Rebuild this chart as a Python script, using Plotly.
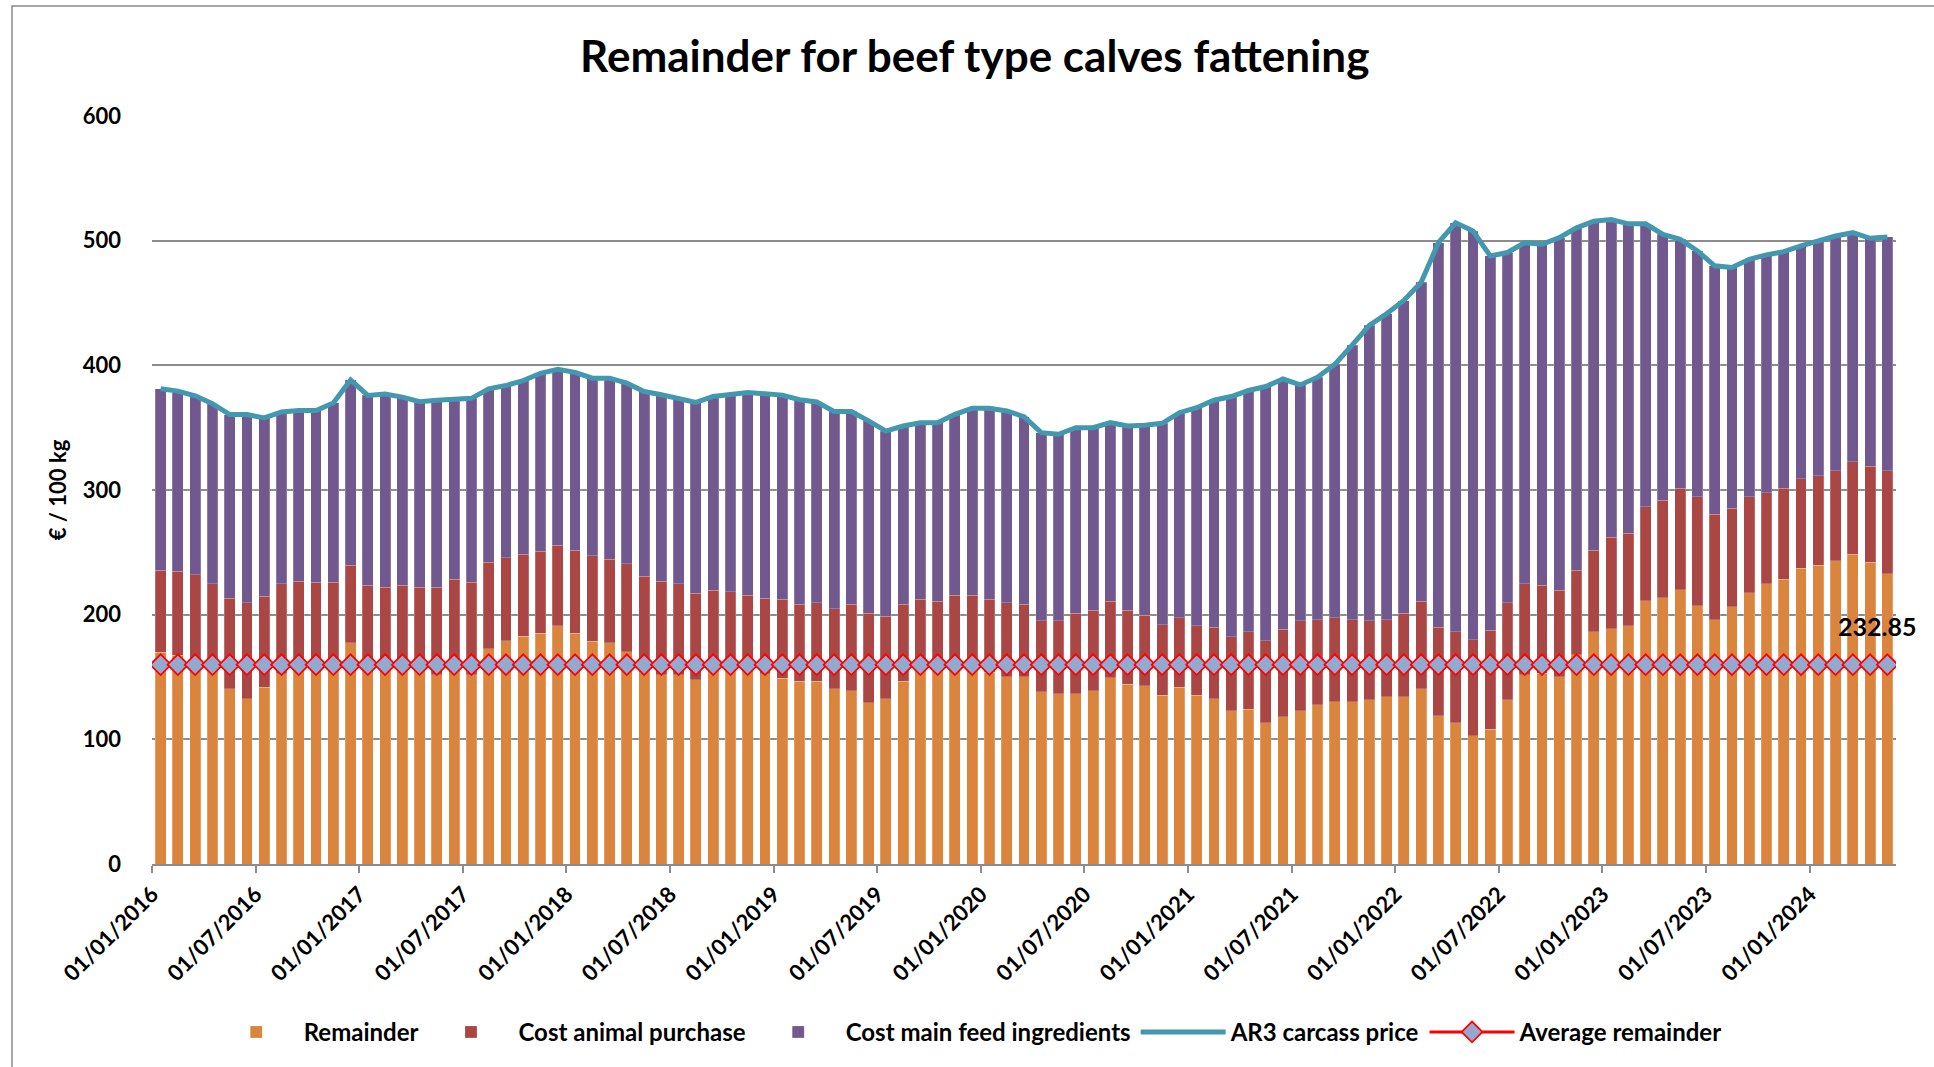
import plotly.graph_objects as go

# ---------------- data ----------------
start_year, start_month = 2016, 1
n_months = 101  # Jan 2016 .. May 2024
months = []
y, m = start_year, start_month
for _ in range(n_months):
    months.append((y, m))
    m += 1
    if m > 12:
        m = 1
        y += 1

remainder = [
    170.0, 167.6, 162.0, 158.0, 140.5, 132.7, 141.6, 152.7, 156.0, 157.0, 156.0, 177.3,
    158.0, 157.0, 157.0, 158.0, 151.8, 155.0, 151.8, 172.8, 179.1, 182.5, 184.9, 191.0,
    184.9, 178.8, 177.3, 170.1, 160.0, 151.7, 151.7, 147.8, 157.0, 158.0, 156.0, 152.5,
    149.0, 146.4, 146.4, 140.5, 138.9, 129.2, 132.7, 146.4, 156.0, 158.0, 160.0, 160.0,
    154.0, 150.4, 150.4, 138.1, 136.5, 136.5, 138.9, 149.3, 144.0, 142.9, 135.4, 141.6,
    135.4, 132.7, 123.1, 124.2, 113.5, 118.3, 123.1, 127.9, 130.3, 130.3, 131.9, 134.3,
    134.3, 140.5, 119.1, 113.5, 103.0, 108.1, 131.7, 151.7, 153.0, 150.4, 167.8, 186.2,
    188.7, 191.1, 211.1, 213.5, 220.0, 207.1, 196.1, 206.3, 217.6, 224.8, 228.5, 237.1,
    239.8, 243.2, 248.3, 242.2, 232.85,
]

animal_purchase = [
    65.7, 67.1, 70.0, 66.8, 72.8, 76.8, 73.0, 72.1, 70.9, 68.9, 69.9, 62.5,
    65.7, 65.1, 66.7, 64.1, 70.3, 73.5, 74.1, 69.4, 66.5, 65.8, 65.8, 64.8,
    66.9, 68.5, 67.3, 70.7, 70.9, 75.2, 73.1, 69.5, 62.7, 60.4, 59.7, 60.8,
    63.2, 62.1, 63.1, 64.2, 69.6, 72.0, 65.9, 62.1, 56.2, 52.9, 55.7, 55.7,
    58.2, 59.1, 58.1, 57.0, 58.6, 64.7, 64.7, 61.6, 59.6, 56.7, 56.7, 55.9,
    55.7, 57.3, 59.1, 62.0, 65.5, 70.1, 72.0, 68.2, 67.2, 65.8, 63.2, 61.8,
    66.9, 70.4, 70.9, 72.7, 76.8, 79.5, 77.8, 73.1, 70.4, 69.3, 67.9, 65.6,
    73.3, 74.4, 75.5, 78.2, 81.6, 87.3, 84.6, 79.2, 76.8, 73.0, 73.1, 72.0,
    71.7, 72.3, 74.4, 76.8, 82.7,
]

feed_cost = [
    145.5, 144.6, 143.6, 144.4, 147.2, 151.0, 143.2, 137.8, 136.8, 137.8, 143.9, 148.5,
    152.2, 154.8, 150.8, 148.7, 149.8, 143.9, 147.6, 139.0, 138.2, 139.5, 142.9, 141.0,
    142.6, 142.4, 145.1, 144.9, 148.1, 149.5, 148.1, 153.0, 155.3, 158.5, 162.5, 163.9,
    163.9, 163.9, 161.1, 158.3, 154.5, 154.3, 148.7, 142.8, 141.8, 143.1, 145.0, 149.8,
    153.3, 153.9, 150.3, 150.9, 149.6, 148.8, 146.4, 143.1, 147.7, 152.3, 161.4, 164.5,
    174.9, 182.0, 192.8, 193.6, 204.0, 200.6, 189.2, 194.4, 203.3, 220.1, 237.0, 245.3,
    250.8, 255.7, 308.4, 328.1, 327.9, 300.2, 281.0, 273.6, 273.7, 282.7, 274.6, 263.8,
    255.0, 248.0, 226.9, 213.3, 199.5, 197.4, 199.1, 193.0, 190.7, 190.8, 189.6, 186.7,
    188.2, 188.2, 183.7, 182.9, 187.4,
]

carcass_price = [
    381.2, 379.3, 375.6, 369.2, 360.5, 360.5, 357.8, 362.6, 363.7, 363.7, 369.8, 388.3,
    375.9, 376.9, 374.5, 370.8, 371.9, 372.4, 373.5, 381.2, 383.8, 387.8, 393.6, 396.8,
    394.4, 389.7, 389.7, 385.7, 379.0, 376.4, 372.9, 370.3, 375.0, 376.9, 378.2, 377.2,
    376.1, 372.4, 370.6, 363.0, 363.0, 355.5, 347.3, 351.3, 354.0, 354.0, 360.7, 365.5,
    365.5, 363.4, 358.8, 346.0, 344.7, 350.0, 350.0, 354.0, 351.3, 351.9, 353.5, 362.0,
    366.0, 372.0, 375.0, 379.8, 383.0, 389.0, 384.3, 390.5, 400.8, 416.2, 432.1, 441.4,
    452.0, 466.6, 498.4, 514.3, 507.7, 487.8, 490.5, 498.4, 497.1, 502.4, 510.3, 515.6,
    517.0, 513.5, 513.5, 505.0, 501.1, 491.8, 479.8, 478.5, 485.1, 488.6, 491.2, 495.8,
    499.7, 503.7, 506.4, 501.9, 502.9,
]

average_remainder_value = 159.9
average_remainder = [average_remainder_value] * n_months

# ---------------- styling ----------------
FONT = "Lato"
C_ORANGE = "#DB843D"
C_RED = "#AA4643"
C_PURPLE = "#71588F"
C_TEAL = "#4198AF"
C_MARKER = "#93A9CF"
GRID = "#8c8c8c"
SEG_LINE = "rgba(255,255,255,0.35)"

x = list(range(n_months))

# tick positions at the left edge of January and July categories
tick_vals = [i - 0.5 for i, (yy, mm) in enumerate(months) if mm in (1, 7)]
tick_text = ["01/%02d/%d" % (mm, yy) for (yy, mm) in months if mm in (1, 7)]

fig = go.Figure()
fig.add_trace(go.Bar(x=x, y=remainder, name="Remainder", marker_color=C_ORANGE,
                     marker_line=dict(width=0.6, color=SEG_LINE)))
fig.add_trace(go.Bar(x=x, y=animal_purchase, name="Cost animal purchase",
                     marker_color=C_RED, marker_line=dict(width=0.6, color=SEG_LINE)))
fig.add_trace(go.Bar(x=x, y=feed_cost, name="Cost main feed ingredients",
                     marker_color=C_PURPLE, marker_line=dict(width=0.6, color=SEG_LINE)))
fig.add_trace(go.Scatter(x=x, y=carcass_price, name="AR3 carcass price", mode="lines",
                         line=dict(color=C_TEAL, width=5)))
fig.add_trace(go.Scatter(x=x, y=average_remainder, name="Average remainder",
                         mode="lines+markers",
                         line=dict(color="#FF0000", width=3),
                         marker=dict(symbol="diamond", size=16, color=C_MARKER,
                                     line=dict(color="#FF0000", width=1.8))))

# data label for the last remainder value
last_idx = n_months - 1
fig.add_annotation(x=x[last_idx], y=remainder[last_idx], yshift=-52, xshift=-10,
                   text="%.2f" % remainder[last_idx], showarrow=False,
                   font=dict(family=FONT, size=25, color="#000000", weight="bold"))

plot_l, plot_r, plot_t, plot_b = 152, 38, 116, 203
W, H = 1934, 1067
pw = W - plot_l - plot_r
ph = H - plot_t - plot_b

fig.add_shape(type="rect", xref="paper", yref="paper",
              x0=(12 - plot_l) / pw, x1=(W + 10 - plot_l) / pw,
              y0=-(H + 10 - plot_t - ph) / ph - 0.05, y1=(H - plot_b - 6) / ph,
              line=dict(color="#8a8a8a", width=1.5), fillcolor="rgba(0,0,0,0)",
              layer="below")

fig.update_layout(
    width=W, height=H,
    barmode="stack", bargap=0.37,
    paper_bgcolor="white", plot_bgcolor="white",
    margin=dict(l=plot_l, r=plot_r, t=plot_t, b=plot_b),
    font=dict(family=FONT, color="#000000"),
    title=dict(text="Remainder for beef type calves fattening",
               x=0.504, xanchor="center", y=1 - 57 / H, yanchor="middle",
               font=dict(family=FONT, size=44, color="#000000", weight="bold")),
    showlegend=True,
    legend=dict(orientation="h", x=0.468, xanchor="center", y=-0.225, yanchor="middle",
                font=dict(family=FONT, size=24, color="#000000", weight="bold"),
                traceorder="normal", itemwidth=85, bgcolor="rgba(0,0,0,0)"),
    xaxis=dict(range=[-0.5, n_months - 0.5], tickmode="array", tickvals=tick_vals,
               ticktext=tick_text, tickangle=-45, ticks="outside", ticklen=7,
               tickcolor=GRID, tickwidth=1.5, showline=True, linecolor=GRID,
               linewidth=1.5, showgrid=False, zeroline=False,
               tickfont=dict(family=FONT, size=22, color="#000000", weight="bold")),
    yaxis=dict(range=[0, 600], dtick=100, showgrid=True, gridcolor=GRID, gridwidth=1.5,
               zeroline=False, showline=False, ticks="", ticklabelstandoff=30,
               tickfont=dict(family=FONT, size=22, color="#000000", weight="bold"),
               title=dict(text="€ / 100 kg", standoff=10,
                          font=dict(family=FONT, size=22, color="#000000", weight="bold"))),
)

fig.write_html("out.html", config={"displayModeBar": False},
               post_script="document.body.style.margin='0px';")
